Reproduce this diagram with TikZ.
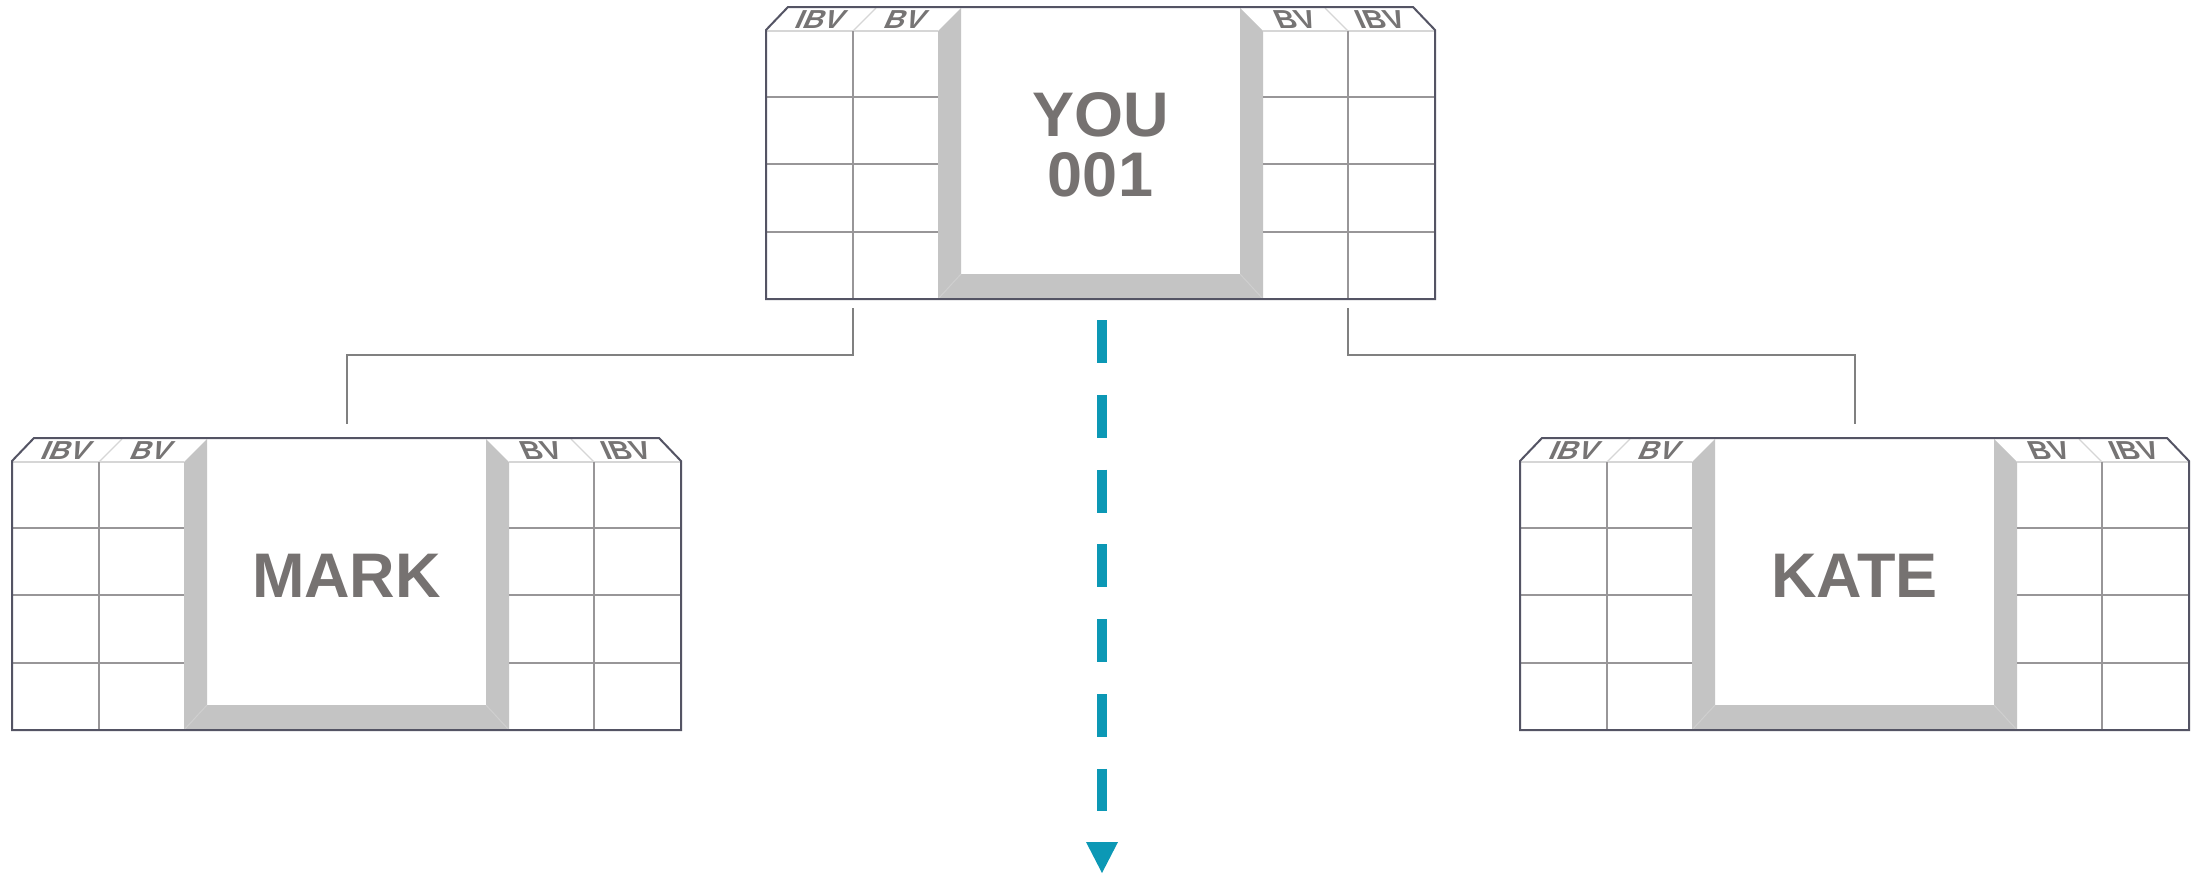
\documentclass[tikz,border=0pt]{standalone}
\usepackage{fontspec}
\setmainfont{Liberation Sans}
\definecolor{txtgrey}{RGB}{118,114,113}
\definecolor{lblgrey}{RGB}{118,116,116}
\definecolor{outl}{RGB}{84,84,100}
\definecolor{gridc}{RGB}{152,150,152}
\definecolor{framec}{RGB}{196,196,196}
\definecolor{lightc}{RGB}{214,214,214}
\definecolor{conc}{RGB}{128,128,128}
\definecolor{arrowteal}{RGB}{12,152,181}
\tikzset{
  outline/.style={draw=outl,line width=2pt,line join=miter},
  gridline/.style={draw=gridc,line width=1.8pt},
  hdrline/.style={draw=lightc,line width=1.2pt},
  bevel/.style={draw=lightc!60!framec,line width=1pt},
  hdrlabel/.style={text=lblgrey,font=\bfseries\fontsize{26}{26}\selectfont,inner sep=0pt},
  bigname/.style={text=txtgrey,font=\bfseries\fontsize{63}{60}\selectfont,align=center,inner sep=0pt},
  link/.style={draw=conc,line width=2pt},
  flow/.style={draw=arrowteal,line width=10.5pt,dash pattern=on 43pt off 31.8pt},
}
\newcommand\famblock[4]{%
\begin{scope}[shift={(#2,#3)}]
  \fill[white] (0,292) -- (0,23) -- (22,0) -- (647,0) -- (669,23) -- (669,292) -- cycle;
  \fill[framec] (172,24) -- (195,1) -- (195,267) -- (474,267) -- (474,1) -- (497,24) -- (497,292) -- (172,292) -- cycle;
  \draw[bevel] (172,292) -- (195,267) (497,292) -- (474,267);
  \draw[hdrline] (0,24) -- (172,24) (497,24) -- (669,24);
  \draw[hdrline] (87,24) -- (110,1) (582,24) -- (559,1);
  \draw[gridline] (87,24) -- (87,292) (582,24) -- (582,292);
  \foreach \yy in {90,157,225} {\draw[gridline] (0,\yy) -- (172,\yy) (497,\yy) -- (669,\yy);}
  \node[hdrlabel,xslant=0.45,xscale=1.1] (#1-ibvl) at (55,12.5) {IBV};
  \node[hdrlabel,xslant=0.45,xscale=1.1] (#1-bvl) at (140,12.5) {BV};
  \node[hdrlabel,xslant=-0.45,xscale=1.1] (#1-bvr) at (529,12.5) {BV};
  \node[hdrlabel,xslant=-0.45,xscale=1.1] (#1-ibvr) at (614,12.5) {IBV};
  \draw[outline] (0,292) -- (0,23) -- (22,0) -- (647,0) -- (669,23) -- (669,292) -- cycle;
  \node[bigname] (#1) at (334.5,138) {#4};
  \coordinate (#1-ldiv) at (87,301);
  \coordinate (#1-rdiv) at (582,301);
  \coordinate (#1-top) at (334.5,-14);
\end{scope}}
\begin{document}
\begin{tikzpicture}[x=1pt,y=-1pt]
  \useasboundingbox (0,0) rectangle (2201,873);
  \fill[white] (0,0) rectangle (2201,873);
  \famblock{you}{766}{7}{YOU\\001}
  \famblock{mark}{12}{438}{MARK}
  \famblock{kate}{1520}{438}{KATE}
  \draw[link] (you-ldiv) -- ++(0,47) -| (mark-top);
  \draw[link] (you-rdiv) -- ++(0,47) -| (kate-top);
  \coordinate (flowstart) at (1102,320);
  \coordinate (flowend) at (1102,811);
  \coordinate (flowtip) at (1102,873);
  \draw[flow] (flowstart) -- (flowend);
  \fill[arrowteal] (flowtip) -- ++(-16,-31) -- ++(32,0) -- cycle;
\end{tikzpicture}
\end{document}
